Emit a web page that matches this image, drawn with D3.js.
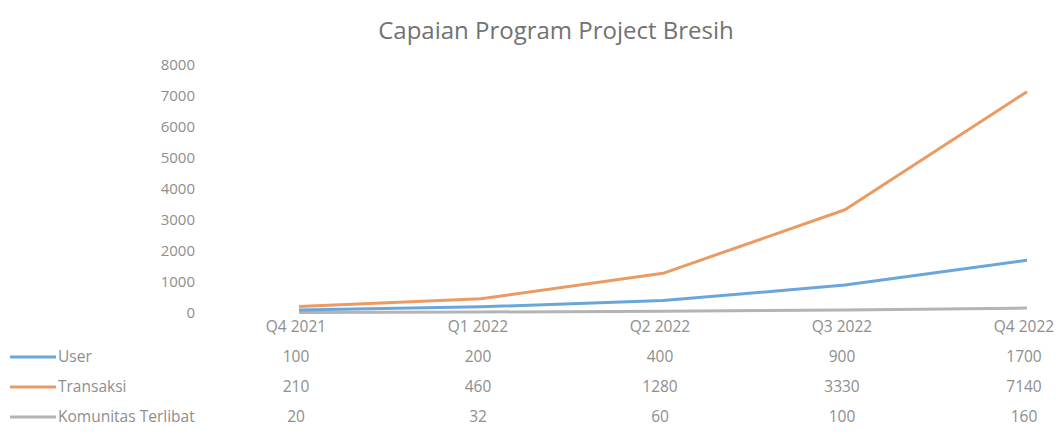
<!DOCTYPE html>
<html>
<head>
<meta charset="utf-8">
<script src="https://cdn.jsdelivr.net/npm/d3@7"></script>
<style>
  body { margin: 0; background: #fff; }
  text { font-family: "Open Sans", "Liberation Sans", sans-serif; }
</style>
</head>
<body>
<div id="viz"></div>
<script>
// chart data
var quarters = ["Q4 2021", "Q1 2022", "Q2 2022", "Q3 2022", "Q4 2022"];
var seriesNames = ["User", "Transaksi", "Komunitas Terlibat"];
var userVals = [100, 200, 400, 900, 1700];
var transaksiVals = [210, 460, 1280, 3330, 7140];
var komunitasVals = [20, 32, 60, 100, 160];
var yTicks = [0, 1000, 2000, 3000, 4000, 5000, 6000, 7000, 8000];

var colors = ["#6aa6dc", "#ec9a64", "#b4b4b4"];
var allVals = [userVals, transaksiVals, komunitasVals];

var width = 1062, height = 436;
var labelColor = "#8e8e8e";

var svg = d3.select("#viz")
    .append("svg")
    .attr("width", width)
    .attr("height", height);

// title
svg.append("text")
    .attr("x", 556)
    .attr("y", 39)
    .attr("text-anchor", "middle")
    .attr("fill", "#727272")
    .style("font-size", "24px")
    .text("Capaian Program Project Bresih");

var xscale = d3.scalePoint()
    .domain(quarters)
    .range([299, 1027]);

var yscale = d3.scaleLinear()
    .domain([0, 8000])
    .range([313, 65]);

// y axis labels only (no line, no ticks)
var yAxis = svg.append("g")
    .attr("transform", "translate(195,0)")
    .call(d3.axisLeft(yscale).tickValues(yTicks).tickFormat(d3.format("d")).tickSize(0).tickPadding(0));
yAxis.select(".domain").remove();
yAxis.selectAll("text")
    .attr("fill", labelColor)
    .style("font-size", "15px")
    .style("font-family", "'Open Sans', sans-serif");

// lines
var line = d3.line()
    .x(function(d, i) { return xscale(quarters[i]); })
    .y(function(d) { return yscale(d); });

// draw gray first so the others sit on top
[2, 0, 1].forEach(function(k) {
    svg.append("path")
        .datum(allVals[k])
        .attr("d", line)
        .attr("fill", "none")
        .attr("stroke", colors[k])
        .attr("stroke-width", 3)
        .attr("stroke-linejoin", "round");
});

// data table: category row
svg.selectAll(".cat")
    .data(quarters)
    .enter()
    .append("text")
    .attr("x", function(d) { return xscale(d) - 3; })
    .attr("y", 332)
    .attr("text-anchor", "middle")
    .attr("fill", labelColor)
    .style("font-size", "15.5px")
    .text(function(d) { return d; });

var rowY = [362, 392, 422];

seriesNames.forEach(function(name, k) {
    // legend key
    svg.append("line")
        .attr("x1", 10).attr("x2", 56)
        .attr("y1", rowY[k] - 5).attr("y2", rowY[k] - 5)
        .attr("stroke", colors[k])
        .attr("stroke-width", 3);
    svg.append("text")
        .attr("x", 58)
        .attr("y", rowY[k])
        .attr("fill", labelColor)
        .style("font-size", "15.5px")
        .text(name);
    // values
    svg.selectAll(".v" + k)
        .data(allVals[k])
        .enter()
        .append("text")
        .attr("x", function(d, i) { return xscale(quarters[i]) - 3; })
        .attr("y", rowY[k])
        .attr("text-anchor", "middle")
        .attr("fill", labelColor)
        .style("font-size", "15.5px")
        .text(function(d) { return d; });
});
</script>
</body>
</html>
